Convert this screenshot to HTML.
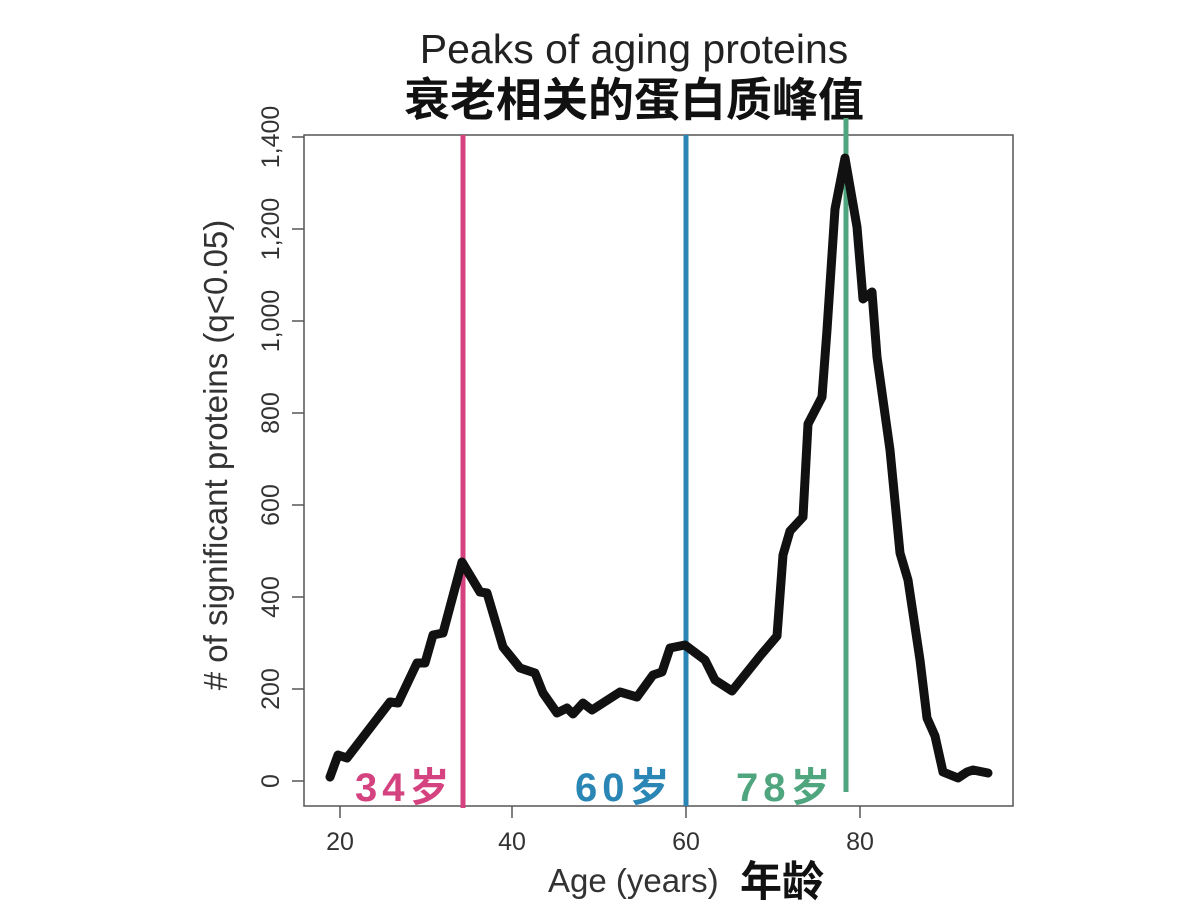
<!DOCTYPE html>
<html><head><meta charset="utf-8"><style>
html,body{margin:0;padding:0;background:#fff;}
</style></head><body>
<svg width="1184" height="918" xmlns="http://www.w3.org/2000/svg" style="display:block">
<rect width="1184" height="918" fill="#fff"/>
<text x="634" y="63" font-family="Liberation Sans, sans-serif" font-size="41" text-anchor="middle" fill="#222">Peaks of aging proteins</text>
<text x="634" y="116" font-family="Liberation Sans, Noto Sans CJK SC, sans-serif" font-size="46" font-weight="bold" text-anchor="middle" fill="#111">衰老相关的蛋白质峰值</text>
<rect x="304" y="135" width="709" height="671" fill="none" stroke="#555" stroke-width="1.5"/>
<g stroke="#555" stroke-width="1.5">
<line x1="340" y1="806" x2="340" y2="818"/><line x1="512" y1="806" x2="512" y2="818"/><line x1="686" y1="806" x2="686" y2="818"/><line x1="860" y1="806" x2="860" y2="818"/>
<line x1="292" y1="781" x2="304" y2="781"/><line x1="292" y1="689" x2="304" y2="689"/><line x1="292" y1="597" x2="304" y2="597"/><line x1="292" y1="505" x2="304" y2="505"/><line x1="292" y1="413" x2="304" y2="413"/><line x1="292" y1="321" x2="304" y2="321"/><line x1="292" y1="229" x2="304" y2="229"/><line x1="292" y1="137" x2="304" y2="137"/>
</g>
<g font-family="Liberation Sans, sans-serif" font-size="25" fill="#333" text-anchor="middle">
<text x="340" y="850">20</text><text x="512" y="850">40</text><text x="686" y="850">60</text><text x="860" y="850">80</text>
<text transform="translate(279,781) rotate(-90)">0</text>
<text transform="translate(279,689) rotate(-90)">200</text>
<text transform="translate(279,597) rotate(-90)">400</text>
<text transform="translate(279,505) rotate(-90)">600</text>
<text transform="translate(279,413) rotate(-90)">800</text>
<text transform="translate(279,321) rotate(-90)">1,000</text>
<text transform="translate(279,229) rotate(-90)">1,200</text>
<text transform="translate(279,137) rotate(-90)">1,400</text>
</g>
<text transform="translate(227,455) rotate(-90)" font-family="Liberation Sans, sans-serif" font-size="33" fill="#333" text-anchor="middle"># of significant proteins (q&lt;0.05)</text>
<text x="548" y="892" font-family="Liberation Sans, sans-serif" font-size="33" fill="#333">Age (years)</text>
<text x="740" y="896" font-family="Liberation Sans, Noto Sans CJK SC, sans-serif" font-size="42" font-weight="bold" fill="#111">年龄</text>
<line x1="463" y1="135" x2="463" y2="808" stroke="#d4437f" stroke-width="5"/>
<line x1="686" y1="135" x2="686" y2="806" stroke="#2a86b5" stroke-width="5"/>
<line x1="846" y1="118" x2="846" y2="792" stroke="#4fa57e" stroke-width="5"/>
<g font-family="Liberation Sans, Noto Sans CJK SC, sans-serif" font-size="40" font-weight="bold" letter-spacing="5">
<text x="355" y="801" fill="#d4437f">34岁</text>
<text x="575" y="801" fill="#2a86b5">60岁</text>
<text x="736" y="801" fill="#4fa57e">78岁</text>
</g>
<polyline fill="none" stroke="#111" stroke-width="9" stroke-linejoin="round" stroke-linecap="round" points="330,777 338,755 347,758 390,702 398,703 417,663 425,663 433,635 443,633 462,562 480,592 487,593 503,647 520,668 535,673 543,693 557,713 567,708 573,714 583,703 592,710 620,692 637,697 653,675 662,672 670,648 685,645 705,660 715,680 732,691 760,656 777,636 783,555 790,531 803,517 808,424 822,397 827,330 835,209 845,158 857,227 863,299 872,292 877,357 890,450 900,553 908,580 920,660 927,718 935,736 943,772 958,778 967,772 973,770 988,773"/>
</svg>
</body></html>
